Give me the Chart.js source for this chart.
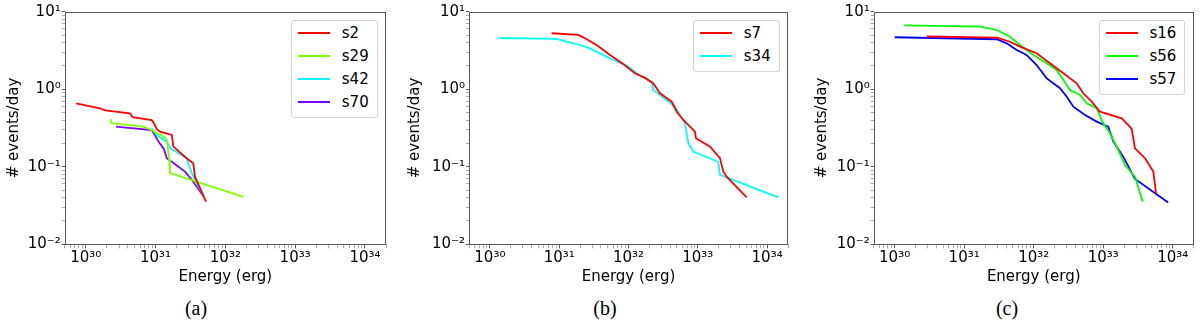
<!DOCTYPE html>
<html>
<head>
<meta charset="utf-8">
<script src="https://cdn.jsdelivr.net/npm/chart.js@4.4.1/dist/chart.umd.min.js"></script>
<style>
  html, body { margin: 0; padding: 0; background: #fff; }
  body { width: 1200px; height: 326px; position: relative; overflow: hidden; font-family: "DejaVu Sans", sans-serif; }
  .panel { position: absolute; top: 0; width: 400px; height: 290px; }
  .legend { position: absolute; background: #fff; border: 1px solid #d4d4d4; border-radius: 3px; padding: 1px 8px 3px 6px; font-size: 15px; color: #000; box-sizing: border-box; }
  .legend .row { height: 22.9px; display: flex; align-items: center; white-space: nowrap; }
  .legend .swatch { display: inline-block; width: 32px; height: 2px; margin-right: 12px; }
  .caption { position: absolute; top: 298px; line-height: 20px; font-family: "Liberation Serif", serif; font-size: 20px; color: #000; transform: translateX(-50%); }
</style>
</head>
<body>
<div class="panel" id="pa" style="left:0px"><canvas id="ca"></canvas></div>
<div class="panel" id="pb" style="left:400px"><canvas id="cb"></canvas></div>
<div class="panel" id="pc" style="left:800px"><canvas id="cc"></canvas></div>
<div class="caption" style="left:196px">(a)</div>
<div class="caption" style="left:605px">(b)</div>
<div class="caption" style="left:1007px">(c)</div>

<script>
// axis ranges and decade labels
const xMin = 5e29, xMax = 2e34;
const yMin = 1e-2, yMax = 1e1;
const xDecades = [30, 31, 32, 33, 34];
const yDecades = [-2, -1, 0, 1];

// panel (a)
const s2E  = [7.3e29, 1.6e30, 1.89e30, 4.3e30, 4.7e30, 8.8e30, 9.5e30, 1.04e31, 1.16e31, 1.71e31, 1.8e31, 2.79e31, 3.47e31, 3.67e31, 5.28e31];
const s2R  = [0.659, 0.568, 0.535, 0.49, 0.435, 0.401, 0.364, 0.305, 0.284, 0.257, 0.182, 0.129, 0.111, 0.0745, 0.0355];
const s29E = [2.28e30, 2.32e30, 6.7e30, 8.8e30, 1.32e31, 1.45e31, 1.57e31, 1.61e31, 1.76e31, 1.81e32];
const s29R = [0.41, 0.364, 0.329, 0.298, 0.244, 0.222, 0.122, 0.0825, 0.0808, 0.0408];
const s42E = [8.8e30, 1.04e31, 1.45e31, 1.61e31, 2.79e31, 3.3e31, 3.89e31, 4.94e31];
const s42R = [0.314, 0.257, 0.211, 0.175, 0.129, 0.0825, 0.0613, 0.042];
const s70E = [2.72e30, 8.8e30, 9.8e30, 1.1e31, 1.32e31, 1.45e31, 1.71e31, 2.64e31, 3.33e31, 4.83e31];
const s70R = [0.329, 0.298, 0.257, 0.211, 0.17, 0.129, 0.116, 0.0865, 0.0676, 0.042];

// panel (b)
const s7E  = [7.8e30, 1.89e31, 2.36e31, 3.47e31, 5.4e31, 8.4e31, 1.24e32, 1.73e32, 2.28e32, 2.85e32, 4.2e32, 4.43e32, 4.96e32, 6.17e32, 9.1e32, 9.4e32, 1.5e33, 2.09e33, 2.33e33, 2.61e33, 5.07e33];
const s7R  = [5.27, 5.01, 4.54, 3.72, 2.77, 2.12, 1.61, 1.4, 1.19, 0.887, 0.691, 0.626, 0.513, 0.401, 0.284, 0.233, 0.182, 0.129, 0.0865, 0.0745, 0.0404];
const s34E = [1.37e30, 9.2e30, 1.28e31, 2e31, 2.78e31, 4.85e31, 6.04e31, 9.4e31, 1.31e32, 2.16e32, 2.28e32, 4.69e32, 6.53e32, 7.3e32, 8.6e32, 1.97e33, 2.09e33, 1.45e34];
const s34R = [4.58, 4.45, 4.1, 3.72, 3.37, 2.63, 2.38, 2.02, 1.61, 1.25, 0.978, 0.596, 0.364, 0.201, 0.157, 0.116, 0.0784, 0.0404];

// panel (c)
const s16E = [2.89e30, 2.94e31, 4.56e31, 6.35e31, 1.1e32, 1.71e32, 2.67e32, 4.15e32, 5.16e32, 6.82e32, 8.98e32, 1.85e33, 2.57e33, 2.86e33, 3.99e33, 5.25e33, 5.74e33];
const s16R = [4.79, 4.62, 4.1, 3.54, 2.91, 2.16, 1.61, 1.19, 0.887, 0.691, 0.513, 0.422, 0.307, 0.173, 0.129, 0.0865, 0.0455];
const s56E = [1.37e30, 1.69e31, 2.94e31, 4.56e31, 6.35e31, 9.9e31, 1.54e32, 2.14e32, 2.67e32, 3.33e32, 4.63e32, 5.78e32, 8.05e32, 1e33, 1.25e33, 1.56e33, 2.06e33, 2.86e33, 3.7e33];
const s56R = [6.68, 6.41, 5.81, 4.76, 3.72, 2.77, 2.16, 1.77, 1.32, 0.978, 0.843, 0.659, 0.568, 0.364, 0.27, 0.182, 0.1055, 0.0745, 0.0355];
const s57E = [1e30, 2.94e31, 4.09e31, 5.69e31, 7.9e31, 1.1e32, 1.54e32, 2.39e32, 2.99e32, 3.72e32, 5.47e32, 8.05e32, 1.18e33, 1.4e33, 1.94e33, 2.86e33, 8.6e33];
const s57R = [4.68, 4.41, 3.91, 3.21, 2.77, 2.05, 1.38, 1.03, 0.801, 0.596, 0.466, 0.382, 0.329, 0.211, 0.135, 0.0696, 0.0347];

const FONT = 'DejaVu Sans';
const SUP = {'0':'⁰','1':'¹','2':'²','3':'³','4':'⁴','5':'⁵','6':'⁶','7':'⁷','8':'⁸','9':'⁹','-':'⁻'};

// log ticks: every 1..9 x 10^n inside the range
const logTicks = (decs, lo, hi) => {
    const out = [];
    for (let d = decs[0] - 1; d <= decs[decs.length - 1]; d++) {
        for (let m = 1; m < 10; m++) {
            const v = m * Math.pow(10, d);
            if (v >= lo * 0.999 && v <= hi * 1.001) out.push(v);
        }
    }
    return out;
};
const xTicks = logTicks(xDecades, xMin, xMax);
const yTicks = logTicks(yDecades, yMin, yMax);

const isMajor = (v) => {
    const e = Math.log10(v);
    return Math.abs(e - Math.round(e)) < 1e-6;
};
const powLabel = (v) => {
    if (!isMajor(v)) return '';
    const e = Math.round(Math.log10(v));
    return '10' + String(e).split('').map(c => SUP[c]).join('');
};

const pts = (E, R) => E.map((e, i) => ({ x: e, y: R[i] }));

// box around the plot area like matplotlib spines
const frame = {
    id: 'frame',
    afterDraw(chart) {
        const { ctx, chartArea: a } = chart;
        ctx.save();
        ctx.strokeStyle = '#5a5a5a';
        ctx.lineWidth = 1;
        ctx.strokeRect(Math.round(a.left) + 0.5, Math.round(a.top) + 0.5,
            Math.round(a.right - a.left) - 1, Math.round(a.bottom - a.top) - 1);
        ctx.restore();
    }
};

const tickGrid = (len) => ({
    drawOnChartArea: false,
    tickLength: len,
    tickColor: (c) => isMajor(c.tick.value) ? '#5a5a5a' : '#8a8a8a',
    tickWidth: (c) => isMajor(c.tick.value) ? 1 : 0.7
});

const crearPanel = (canvasId, panelId, series, geo) => {
    const chart = new Chart(document.getElementById(canvasId), {
        type: 'scatter',
        data: {
            datasets: series.map(s => ({
                label: s.label,
                data: pts(s.E, s.R),
                borderColor: s.color,
                backgroundColor: s.color,
                borderWidth: 1.8,
                pointRadius: 0,
                showLine: true,
                fill: false,
                tension: 0
            }))
        },
        options: {
            responsive: true,
            maintainAspectRatio: false,
            animation: false,
            layout: { padding: { left: 0, top: 11.7, right: geo.right, bottom: 0 } },
            plugins: { legend: { display: false }, tooltip: { enabled: false } },
            scales: {
                x: {
                    type: 'logarithmic',
                    min: xMin,
                    max: xMax,
                    afterBuildTicks: (ax) => { ax.ticks = xTicks.map(v => ({ value: v })); },
                    afterFit: (ax) => { ax.height = 45.7; },
                    ticks: {
                        autoSkip: false, maxRotation: 0, padding: 1,
                        color: '#000', font: { family: FONT, size: 15 },
                        callback: (v) => powLabel(v)
                    },
                    grid: tickGrid(4),
                    border: { display: false },
                    title: {
                        display: true, text: 'Energy (erg)', color: '#000',
                        font: { family: FONT, size: 15 }, padding: { top: 0, bottom: 4 }
                    }
                },
                y: {
                    type: 'logarithmic',
                    min: yMin,
                    max: yMax,
                    afterBuildTicks: (ax) => { ax.ticks = yTicks.map(v => ({ value: v })); },
                    afterFit: (ax) => { ax.width = geo.yw; },
                    ticks: {
                        autoSkip: false, padding: 1,
                        color: '#000', font: { family: FONT, size: 15 },
                        callback: (v) => powLabel(v)
                    },
                    grid: tickGrid(3),
                    border: { display: false },
                    title: {
                        display: true, text: '# events/day', color: '#000',
                        font: { family: FONT, size: 15 }, padding: { top: geo.tp, bottom: 0 }
                    }
                }
            }
        },
        plugins: [frame]
    });

    // legend box in the upper right corner of the plot area
    const a = chart.chartArea;
    const box = document.createElement('div');
    box.className = 'legend';
    box.style.right = (400 - a.right + 8.3) + 'px';
    box.style.top = (a.top + 8.3) + 'px';
    series.forEach(s => {
        const row = document.createElement('div');
        row.className = 'row';
        const sw = document.createElement('span');
        sw.className = 'swatch';
        sw.style.background = s.color;
        const tx = document.createElement('span');
        tx.textContent = s.label;
        row.appendChild(sw);
        row.appendChild(tx);
        box.appendChild(row);
    });
    document.getElementById(panelId).appendChild(box);
    return chart;
};

crearPanel('ca', 'pa', [
    { label: 's2',  E: s2E,  R: s2R,  color: '#ff0000' },
    { label: 's29', E: s29E, R: s29R, color: '#80ff00' },
    { label: 's42', E: s42E, R: s42R, color: '#00ffff' },
    { label: 's70', E: s70E, R: s70R, color: '#8000ff' }
], { yw: 64.7, right: 14, tp: 5 });

crearPanel('cb', 'pb', [
    { label: 's7',  E: s7E,  R: s7R,  color: '#ff0000' },
    { label: 's34', E: s34E, R: s34R, color: '#00ffff' }
], { yw: 69, right: 12, tp: 6 });

crearPanel('cc', 'pc', [
    { label: 's16', E: s16E, R: s16R, color: '#ff0000' },
    { label: 's56', E: s56E, R: s56R, color: '#00ff00' },
    { label: 's57', E: s57E, R: s57R, color: '#0000ff' }
], { yw: 73.7, right: 6.3, tp: 12.7 });
</script>
</body>
</html>
